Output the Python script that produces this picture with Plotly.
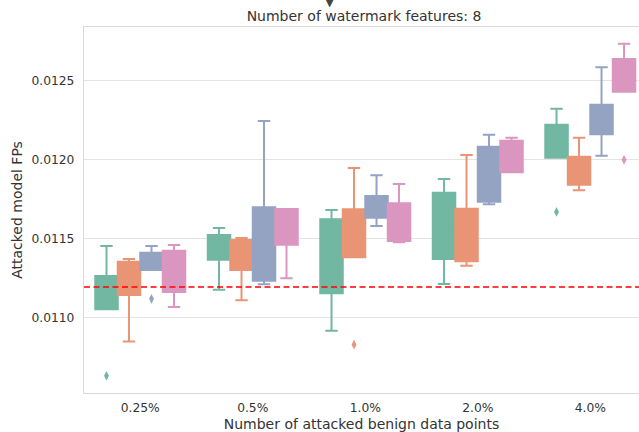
import plotly.graph_objects as go

categories = ["0.25%", "0.5%", "1.0%", "2.0%", "4.0%"]
hues = ["h1", "h2", "h3", "h4"]
colors = ["#71b7a1", "#e99575", "#95a3c3", "#db96c0"]

# per hue: lists over categories
q1 = [
    [0.011053, 0.011368, 0.011155, 0.011372, 0.012014],
    [0.011144, 0.011302, 0.011383, 0.011357, 0.011843],
    [0.011302, 0.011234, 0.011634, 0.011735, 0.012162],
    [0.011163, 0.011463, 0.011486, 0.011921, 0.012432],
]
q3 = [
    [0.011264, 0.011524, 0.011624, 0.011792, 0.012223],
    [0.011355, 0.011492, 0.011687, 0.011691, 0.012020],
    [0.011412, 0.011700, 0.011771, 0.012084, 0.012350],
    [0.011425, 0.011689, 0.011725, 0.012122, 0.012639],
]
lowerfence = [
    [0.011053, 0.011177, 0.010918, 0.011214, 0.012014],
    [0.010850, 0.011110, 0.011383, 0.011330, 0.011807],
    [0.011302, 0.011212, 0.011581, 0.011719, 0.012027],
    [0.011068, 0.011250, 0.011478, 0.011921, 0.012432],
]
upperfence = [
    [0.011454, 0.011568, 0.011683, 0.011879, 0.012324],
    [0.011372, 0.011505, 0.011949, 0.012031, 0.012141],
    [0.011454, 0.012247, 0.011902, 0.012160, 0.012587],
    [0.011461, 0.011689, 0.011847, 0.012141, 0.012736],
]
median = [
    [0.011150, 0.011450, 0.011400, 0.011560, 0.012100],
    [0.011250, 0.011400, 0.011550, 0.011500, 0.011930],
    [0.011360, 0.011450, 0.011700, 0.011900, 0.012250],
    [0.011300, 0.011580, 0.011600, 0.012000, 0.012540],
]
outlier_x = [["0.25%", "4.0%"], ["1.0%"], ["0.25%"], ["4.0%"]]
outlier_y = [[0.010632, 0.011670], [0.010829], [0.011120], [0.012001]]

reference_line = 0.011195

fig = go.Figure()
for i, h in enumerate(hues):
    fig.add_trace(go.Box(
        x=categories, q1=q1[i], q3=q3[i], median=median[i],
        lowerfence=lowerfence[i], upperfence=upperfence[i],
        name=h, offsetgroup=h, alignmentgroup="a",
        line=dict(color=colors[i], width=2), fillcolor=colors[i],
        whiskerwidth=0.55, boxpoints=False, showlegend=False,
        hoverinfo="skip",
    ))
for i, h in enumerate(hues):
    fig.add_trace(go.Scatter(
        x=outlier_x[i], y=outlier_y[i], mode="markers",
        offsetgroup=h, alignmentgroup="a",
        marker=dict(symbol="diamond-tall", size=7, color=colors[i], line=dict(width=0)),
        showlegend=False, hoverinfo="skip",
    ))

fig.add_shape(type="line", xref="paper", x0=0, x1=1, yref="y",
              y0=reference_line, y1=reference_line, layer="above",
              line=dict(color="red", width=1.5, dash="6px,3.5px"))

fig.add_annotation(text="▼", xref="paper", yref="paper", x=(330 - 84) / 555, y=1 + (27 - 2) / 366,
                   showarrow=False, font=dict(size=12, color="#444"), yanchor="middle")

fig.update_layout(
    width=639, height=432,
    margin=dict(l=84, r=0, t=27, b=39, autoexpand=False),
    paper_bgcolor="white", plot_bgcolor="white",
    boxmode="group", boxgap=0.2, boxgroupgap=0,
    scattermode="group", scattergap=0.2,
    font=dict(family="DejaVu Sans", size=12, color="#333"),
    title=dict(text="Number of watermark features: 8", x=364 / 639, xanchor="center",
               y=1 - 16 / 432, yanchor="middle", font=dict(size=14, color="#333")),
    showlegend=False,
)
fig.update_xaxes(
    type="category", categoryorder="array", categoryarray=categories,
    range=[-0.5, 4.433], automargin=False, ticklabelstandoff=3,
    showgrid=False, showline=True, mirror=True, linecolor="#d9d9d9", linewidth=1.2,
    ticks="", tickfont=dict(size=12.3, color="#333"),
    title=dict(text="Number of attacked benign data points", font=dict(size=14, color="#333")),
)
fig.update_yaxes(
    range=[0.010523, 0.012842], automargin=True, ticklabelstandoff=6,
    tickvals=[0.0110, 0.0115, 0.0120, 0.0125], tickformat=".4f",
    showgrid=True, gridcolor="#e3e3e3", gridwidth=1, zeroline=False,
    showline=True, mirror=True, linecolor="#d9d9d9", linewidth=1.2,
    ticks="", tickfont=dict(size=12.3, color="#333"),
    title=dict(text="Attacked model FPs", font=dict(size=14, color="#333"), standoff=5),
)

fig.write_html("out.html", config={"displayModeBar": False},
               post_script="document.body.style.margin='0';")
